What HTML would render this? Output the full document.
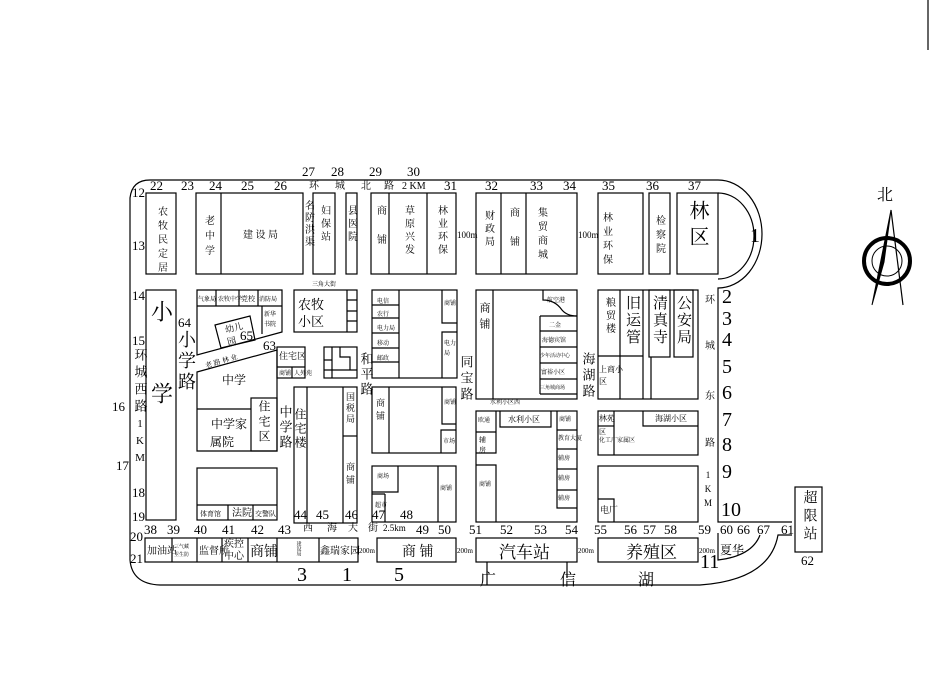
<!DOCTYPE html>
<html><head><meta charset="utf-8"><style>
html,body{margin:0;padding:0;background:#fff}
svg{display:block}
text{font-family:"Liberation Serif","Noto Serif CJK SC",serif;fill:#000}
.n{font-size:13px}
.m{font-size:10px}
.v{writing-mode:vertical-rl;text-orientation:upright}
.g{fill:#555}
</style></head><body>
<svg width="934" height="687" viewBox="0 0 934 687" xmlns="http://www.w3.org/2000/svg">
<g fill="none" stroke="#000" stroke-width="1.2">
<path d="M718 180 L150 180 Q132 180 130 198 L130 560 Q132 584 160 585 L700 585 Q770 580 778 535 L792 535"/>
<path d="M718 180 A44 54 0 0 1 718 288 L718 522 L792 522"/>
<path d="M718 193 A36 43 0 0 1 718 279"/>
<path d="M718 533 L718 560 Q752 556 760 535"/>
<line x1="928" y1="0" x2="928" y2="50"/>
<rect x="146" y="193" width="30" height="81"/>
<rect x="196" y="193" width="107" height="81"/><line x1="221" y1="193" x2="221" y2="274"/>
<rect x="313" y="193" width="22" height="81"/>
<rect x="346" y="193" width="11" height="81"/>
<rect x="371" y="193" width="85" height="81"/><line x1="389" y1="193" x2="389" y2="274"/><line x1="427" y1="193" x2="427" y2="274"/>
<rect x="476" y="193" width="101" height="81"/><line x1="501" y1="193" x2="501" y2="274"/><line x1="526" y1="193" x2="526" y2="274"/>
<rect x="598" y="193" width="45" height="81"/>
<rect x="649" y="193" width="21" height="81"/>
<rect x="677" y="193" width="41" height="81"/>
<rect x="146" y="290" width="30" height="230"/>
<path d="M197 290 L282 290 L282 332 L197 355 Z"/>
<line x1="197" y1="306" x2="282" y2="306"/>
<line x1="216" y1="290" x2="216" y2="306"/><line x1="239" y1="290" x2="239" y2="306"/><line x1="258" y1="290" x2="258" y2="306"/>
<path d="M262 306 L262 334"/>
<path d="M215 325 L250 316 L255 340 L221 348 Z"/>
<path d="M197 372 L277 350 L277 451 L197 451 Z"/>
<line x1="197" y1="409" x2="251" y2="409"/><rect x="251" y="398" width="26" height="53"/>
<rect x="197" y="468" width="80" height="52"/><line x1="197" y1="505" x2="277" y2="505"/>
<line x1="228" y1="505" x2="228" y2="520"/><line x1="253" y1="505" x2="253" y2="520"/>
<rect x="294" y="290" width="63" height="42"/>
<path d="M347 290 V332 M347 300 H357 M347 311 H357 M347 321 H357"/>
<rect x="277" y="347" width="28" height="31"/><line x1="277" y1="367" x2="305" y2="367"/><line x1="292" y1="367" x2="292" y2="378"/>
<rect x="324" y="347" width="33" height="31"/>
<path d="M324 360 H332 M332 347 V378 M332 370 H357 M340 347 V357 H350 V370 M324 370 H332"/>
<rect x="372" y="290" width="85" height="88"/>
<path d="M399 290 V378 M372 305 H399 M372 318 H399 M372 333 H399 M372 348 H399 M372 362 H399"/>
<path d="M442 290 V323 H457 M442 378 V332 H457"/>
<rect x="294" y="387" width="63" height="136"/>
<line x1="307" y1="387" x2="307" y2="523"/><line x1="343" y1="387" x2="343" y2="523"/><line x1="343" y1="436" x2="357" y2="436"/>
<rect x="372" y="387" width="84" height="66"/><line x1="389" y1="387" x2="389" y2="453"/>
<path d="M442 387 V424 H456 M441 453 V430 H456"/>
<rect x="372" y="466" width="84" height="56"/>
<path d="M372 492 H398 V466 M385 494 V522 M372 494 H385 M438 466 V522"/>
<rect x="476" y="290" width="101" height="109"/><line x1="493" y1="290" x2="493" y2="399"/>
<path d="M543 290 V300 Q555 300 562 310 Q567 316 577 316"/>
<path d="M540 316 H577 M540 331 H577 M540 347 H577 M540 363 H577 M540 379 H577 M540 394 H577 M540 316 V394"/>
<rect x="598" y="290" width="100" height="109"/>
<path d="M620 290 V399 M643 290 V399 M620 356 H643 M598 356 H620"/>
<rect x="649" y="290" width="21" height="67"/><line x1="651" y1="357" x2="651" y2="399"/>
<rect x="674" y="290" width="19" height="67"/>
<rect x="476" y="411" width="101" height="111"/>
<path d="M496 411 V453 H476 M476 432 H496 M476 465 H496 V522"/>
<path d="M500 411 V427 H551 V411"/>
<path d="M557 411 V508 H577 M557 430 H577 M557 449 H577 M557 469 H577 M557 490 H577"/>
<rect x="598" y="411" width="100" height="44"/><line x1="614" y1="411" x2="614" y2="455"/>
<path d="M643 411 V426 H698"/><line x1="598" y1="426" x2="614" y2="426"/>
<rect x="598" y="466" width="100" height="56"/><path d="M598 499 H614 V522"/>
<rect x="145" y="538" width="213" height="24"/>
<path d="M172 538 V562 M197 538 V562 M222 538 V562 M248 538 V562 M277 538 V562 M319 538 V562"/>
<rect x="377" y="538" width="79" height="24"/>
<rect x="476" y="538" width="101" height="24"/>
<rect x="598" y="538" width="100" height="24"/>
<rect x="795" y="487" width="27" height="65"/>
<path d="M487 562 V585 M567 562 V578"/>
</g>
<g stroke="#000" fill="none">
<circle cx="887" cy="261" r="23" stroke-width="4"/>
<circle cx="887" cy="261" r="15" stroke-width="1"/>
<path d="M891 210 L872 305 L884 262 Z" fill="#000"/>
<path d="M891 210 L903 305" stroke-width="1.2"/>
</g>
<text x="877" y="200" font-size="16">北</text>
<g class="n">
<text x="150" y="190">22</text><text x="181" y="190">23</text><text x="209" y="190">24</text><text x="241" y="190">25</text><text x="274" y="190">26</text>
<text x="302" y="176">27</text><text x="331" y="176">28</text><text x="369" y="176">29</text><text x="407" y="176">30</text><text x="444" y="190">31</text>
<text x="485" y="190">32</text><text x="530" y="190">33</text><text x="563" y="190">34</text><text x="602" y="190">35</text><text x="646" y="190">36</text><text x="688" y="190">37</text>
<text x="132" y="197">12</text><text x="132" y="250">13</text><text x="132" y="300">14</text><text x="132" y="345">15</text><text x="112" y="411">16</text><text x="116" y="470">17</text><text x="132" y="497">18</text><text x="132" y="521">19</text><text x="130" y="541">20</text><text x="130" y="563">21</text>
<text x="144" y="534">38</text><text x="167" y="534">39</text><text x="194" y="534">40</text><text x="222" y="534">41</text><text x="251" y="534">42</text><text x="278" y="534">43</text>
<text x="416" y="534">49</text><text x="438" y="534">50</text><text x="469" y="534">51</text><text x="500" y="534">52</text><text x="534" y="534">53</text><text x="565" y="534">54</text>
<text x="594" y="534">55</text><text x="624" y="534">56</text><text x="643" y="534">57</text><text x="664" y="534">58</text><text x="698" y="534">59</text>
<text x="720" y="534">60</text><text x="737" y="534">66</text><text x="757" y="534">67</text><text x="781" y="534">61</text><text x="801" y="565">62</text>
<text x="294" y="519">44</text><text x="316" y="519">45</text><text x="345" y="519">46</text><text x="372" y="519">47</text><text x="400" y="519">48</text>
<text x="178" y="327">64</text><text x="263" y="350">63</text><text x="240" y="340">65</text>
</g>
<g font-size="20">
<text x="750" y="242">1</text>
<text x="722" y="303">2</text><text x="722" y="325">3</text><text x="722" y="346">4</text><text x="722" y="373">5</text><text x="722" y="399">6</text>
<text x="722" y="426">7</text><text x="722" y="451">8</text><text x="722" y="478">9</text><text x="721" y="516">10</text><text x="700" y="568">11</text>
<text x="297" y="581">3</text><text x="342" y="581">1</text><text x="394" y="581">5</text>
</g>
<text x="480" y="585" font-size="16">广</text><text x="560" y="585" font-size="16">信</text><text x="638" y="585" font-size="16">湖</text>
<g class="m g">
<text x="309" y="189">环</text><text x="335" y="189">城</text><text x="361" y="189">北</text><text x="384" y="189">路</text><text x="402" y="189">2 KM</text>
<text x="303" y="531">西</text><text x="327" y="531">海</text><text x="348" y="531">大</text><text x="368" y="531">街</text><text x="383" y="531" font-size="9">2.5km</text>
<text x="457" y="238" font-size="9">100m</text><text x="578" y="238" font-size="9">100m</text>
<text x="359" y="553" font-size="7">200m</text><text x="457" y="553" font-size="7">200m</text><text x="578" y="553" font-size="7">200m</text><text x="699" y="553" font-size="7">200m</text>
</g>
<g font-size="13">
<text class="v" x="140" y="348" letter-spacing="4">环城西路</text>
<text class="v" x="140" y="418" font-size="11" letter-spacing="5">1KM</text>
<text class="v" x="186" y="330" font-size="18" letter-spacing="3">小学路</text>
<text class="v" x="161" y="300" font-size="22">小</text>
<text class="v" x="161" y="382" font-size="22">学</text>
<text class="v" x="285" y="405" letter-spacing="2">中学路</text>
<text class="v" x="366" y="352" letter-spacing="2">和平路</text>
<text class="v" x="466" y="355" letter-spacing="3">同宝路</text>
<text class="v" x="588" y="352" letter-spacing="3">海湖路</text>
<text class="v" x="708" y="294" font-size="10">环</text>
<text class="v" x="708" y="340" font-size="10">城</text>
<text class="v" x="708" y="390" font-size="10">东</text>
<text class="v" x="708" y="437" font-size="10">路</text>
<text class="v" x="708" y="470" font-size="9" letter-spacing="4">1KM</text>
</g>
<g font-size="10">
<text class="v" x="161" y="206" letter-spacing="4">农牧民定居</text>
<text class="v" x="208" y="215" letter-spacing="5">老中学</text>
<text x="243" y="238">建 设 局</text>
<text class="v" x="308" y="200" letter-spacing="2">名防洪渠</text>
<text class="v" x="324" y="205" letter-spacing="3">妇保站</text>
<text class="v" x="351" y="205" letter-spacing="3">县医院</text>
<text class="v" x="380" y="205" letter-spacing="4">商 铺</text>
<text class="v" x="408" y="205" letter-spacing="3">草原兴发</text>
<text class="v" x="441" y="205" letter-spacing="3">林业环保</text>
<text class="v" x="488" y="210" letter-spacing="3">财政局</text>
<text class="v" x="513" y="207" letter-spacing="4">商 铺</text>
<text class="v" x="541" y="207" letter-spacing="4">集贸商城</text>
<text class="v" x="606" y="212" letter-spacing="4">林业环保</text>
<text class="v" x="659" y="215" letter-spacing="4">检察院</text>
<text class="v" x="697" y="200" font-size="20" letter-spacing="6">林区</text>
<text x="312" y="286" font-size="6">三角大街</text>
<text x="298" y="309" font-size="13">农牧</text><text x="298" y="326" font-size="13">小区</text>
<text x="198" y="301" font-size="6">气象局</text><text x="218" y="301" font-size="6">农牧中学</text><text x="241" y="301" font-size="7">党校</text><text x="259" y="301" font-size="6">消防局</text>
<text x="264" y="316" font-size="6">新华</text><text x="264" y="326" font-size="6">书院</text>
<text x="226" y="333" font-size="9" transform="rotate(-14 226 333)">幼儿</text><text x="228" y="345" font-size="9" transform="rotate(-14 228 345)">园</text>
<text x="206" y="368" font-size="7" transform="rotate(-16 206 368)">老 路 林 业</text>
<text x="222" y="384" font-size="12">中学</text>
<text x="211" y="428" font-size="12">中学家</text><text x="210" y="446" font-size="12">属院</text>
<text class="v" x="264" y="400" font-size="12" letter-spacing="3">住宅区</text>
<text x="200" y="516" font-size="7">体育馆</text><text x="232" y="516" font-size="10">法院</text><text x="255" y="516" font-size="7">交警队</text>
<text x="279" y="359" font-size="9">住宅区</text><text x="279" y="375" font-size="6">商铺</text><text x="294" y="375" font-size="6">人外苑</text>
<text x="377" y="303" font-size="6">电信</text><text x="377" y="316" font-size="6">农行</text><text x="377" y="330" font-size="6">电力局</text><text x="377" y="345" font-size="6">移动</text><text x="377" y="360" font-size="6">邮政</text>
<text x="444" y="305" font-size="6">商铺</text><text x="444" y="345" font-size="6">电力</text><text x="444" y="355" font-size="6">局</text>
<text class="v" x="300" y="408" font-size="12" letter-spacing="2">住宅楼</text>
<text class="v" x="350" y="392" font-size="9" letter-spacing="2">国税局</text>
<text class="v" x="350" y="462" font-size="9" letter-spacing="4">商铺</text>
<text class="v" x="380" y="398" font-size="9" letter-spacing="4">商铺</text>
<text x="444" y="404" font-size="6">商铺</text><text x="443" y="443" font-size="6">市场</text>
<text x="377" y="478" font-size="6">商场</text><text x="375" y="507" font-size="6">超市</text><text x="440" y="490" font-size="6">商铺</text>
<text x="147" y="554">加油站</text><text x="174" y="548" font-size="5">三气藏</text><text x="174" y="556" font-size="5">卫生防</text>
<text x="199" y="554">监督所</text><text x="224" y="547">疾控</text><text x="224" y="559">中心</text>
<text x="250" y="556" font-size="14">商铺</text><text class="v" x="298" y="541" font-size="5">建设局</text>
<text x="320" y="554">鑫瑞家园</text>
<text x="402" y="556" font-size="14">商 铺</text>
<text x="499" y="558" font-size="17">汽车站</text>
<text x="626" y="558" font-size="17">养殖区</text>
<text x="720" y="554" font-size="12">夏华</text>
<text class="v" x="809" y="490" font-size="14" letter-spacing="4">超限站</text>
<text class="v" x="484" y="302" font-size="11" letter-spacing="5">商铺</text>
<text x="547" y="302" font-size="6">航空港</text>
<text x="549" y="327" font-size="6">二金</text><text x="542" y="342" font-size="6">海德宾馆</text><text x="540" y="357" font-size="5">少年活动中心</text><text x="541" y="374" font-size="6">富裕小区</text><text x="540" y="389" font-size="5">三角城商场</text>
<text x="490" y="404" font-size="6">水利小区西</text>
<text class="v" x="609" y="297" font-size="10" letter-spacing="3">粮贸楼</text>
<text class="v" x="632" y="295" font-size="15" letter-spacing="2">旧运管</text>
<text class="v" x="659" y="295" font-size="15" letter-spacing="2">清真寺</text>
<text class="v" x="683" y="295" font-size="15" letter-spacing="2">公安局</text>
<text x="599" y="372" font-size="8">上商小</text><text x="599" y="384" font-size="8">区</text>
<text x="478" y="422" font-size="6">欧通</text><text x="479" y="442" font-size="7">辅</text><text x="479" y="452" font-size="7">房</text>
<text x="479" y="486" font-size="6">商铺</text>
<text x="508" y="422" font-size="8">水利小区</text>
<text x="559" y="421" font-size="6">商铺</text><text x="558" y="440" font-size="6">教育大厦</text><text x="558" y="460" font-size="6">辅房</text><text x="558" y="480" font-size="6">辅房</text><text x="558" y="500" font-size="6">辅房</text>
<text x="599" y="421" font-size="8">林苑</text><text x="599" y="434" font-size="7">区</text>
<text x="655" y="421" font-size="8">海湖小区</text>
<text x="599" y="442" font-size="6">化工厂家属区</text>
<text x="600" y="513" font-size="9">电厂</text>
</g>
</svg>
</body></html>
